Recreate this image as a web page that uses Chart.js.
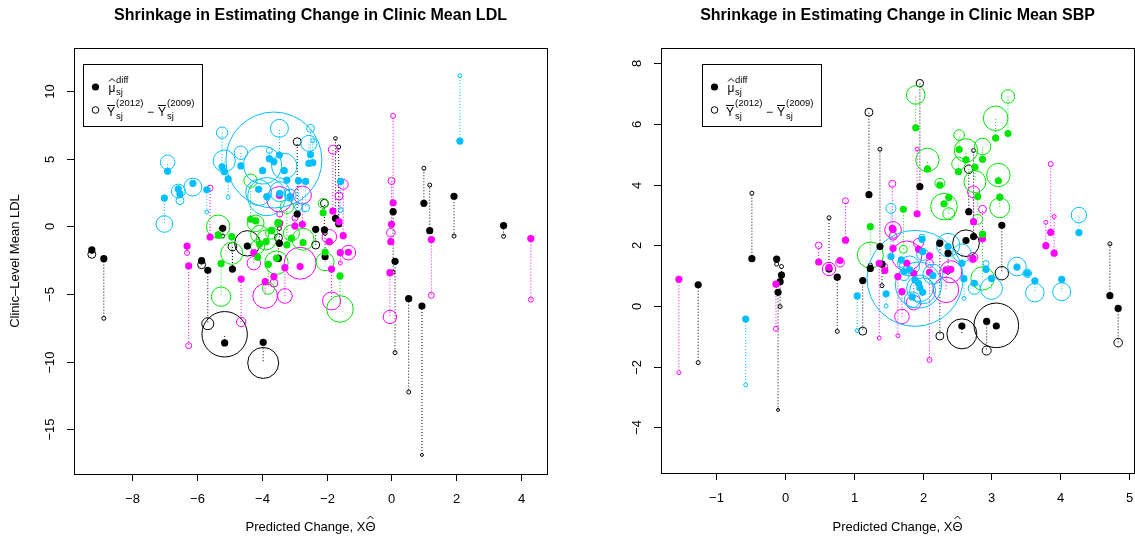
<!DOCTYPE html>
<html>
<head>
<meta charset="utf-8">
<title>Shrinkage in Estimating Change in Clinic Means</title>
<script src="https://cdn.jsdelivr.net/npm/chart.js@4.4.1/dist/chart.umd.min.js"></script>
<style>
  html, body { margin: 0; padding: 0; background: #fff; overflow: hidden; }
  .panel { position: absolute; top: 0; height: 539px; }
  #ldl-panel { left: 0; width: 567px; }
  #sbp-panel { left: 567px; width: 568px; }
</style>
</head>
<body>
<div class="panel" id="ldl-panel"><canvas id="ldlChart" width="567" height="539"></canvas></div>
<div class="panel" id="sbp-panel"><canvas id="sbpChart" width="568" height="539"></canvas></div>
<script>
// region colours: 0 black, 1 magenta, 2 green, 3 blue
const regionColors = ['#000000', '#ff00ff', '#00e600', '#00bfff'];

// ---- LDL panel ----
// predicted change (x), shrinkage estimate (filled), raw 2012-2009 difference (open), clinic weight (circle radius)
const ldlX = [
  -9.25, -8.88, -5.86, -5.67, -5.15, -3.96, 0.05, 0.11, 0.53, 0.94, 1.0, 1.18, 1.93, 3.46, -1.73, -1.63, -2.07, -2.05, -2.91, -2.34, -3.49, -4.45, -5.21, -4.91, -3.46,
  -6.31, -6.26, -5.6, -4.64, -1.85, -1.33, -1.58, 0.05, 0.0, -0.02, -0.05, 1.23, 4.3, -1.81, -1.49, -1.62, -3.46, -2.75, -2.82, -1.92, -4.25, -3.9, -3.29, -3.63, -3.45, -2.98,
  -4.35, -5.35, -4.93, -3.87, -3.55, -2.73, -2.05, -5.26, -1.59, -4.19, -2.11, -3.8, -4.07, -4.13, -3.09, -3.49, -3.23, -3.7,
  -6.91, -7.01, -6.58, -6.53, -6.13, -5.7, -5.23, -5.16, -5.04, -4.65, -3.63, -3.46, -2.5, -2.55, -2.43, -3.98, -3.31, -3.23, -2.87, -2.65, -4.1, -3.85, -3.45, -3.13, -1.57, 2.11, -3.77
];
const ldlFit = [
  -1.75, -2.39, -2.54, -3.25, -8.62, -8.57, 1.08, -2.59, -5.35, -5.89, 1.7, -0.32, 2.22, 0.05, 0.59, 0.17, -0.27, -2.25, 0.91, -0.22, -2.37, -1.46, -0.15, -3.16, -1.26,
  -1.46, -2.93, -0.79, -3.9, -3.16, -1.92, -1.95, 1.74, 0.15, -1.14, -3.43, -0.98, -0.91, 1.13, -0.69, 0.34, 2.3, 0.15, -2.98, -1.14, -1.95, -4.09, -3.06, -3.72, 0.22, 0.02,
  0.52, -0.64, -0.77, -1.14, -2.35, -1.21, -1.9, -2.76, -3.67, 0.4, 1.0, -2.81, -1.31, -2.29, -0.89, 0.27, -1.38, -0.33,
  4.07, 2.09, 2.76, 2.39, 3.18, 2.7, 4.4, 4.04, 3.5, 4.46, 4.78, 5.27, 5.3, 4.65, 4.7, 4.11, 4.11, 3.42, 3.37, 3.32, 2.73, 2.2, 2.44, 2.19, 3.32, 6.3, 5.0
];
const ldlRaw = [
  -2.07, -6.8, -2.84, -7.2, -7.98, -10.1, -3.4, -9.34, -12.25, -16.9, 4.29, 3.05, -0.72, -0.74, 6.5, 5.86, 1.7, -0.52, 6.25, -1.38, -0.85, -1.26, -0.72, -1.5, -0.15,
  -1.97, -8.82, 2.81, -7.07, -5.52, -1.95, -2.71, 8.17, 3.35, -0.47, -6.7, -5.1, -5.42, 5.66, 3.1, 2.24, 2.0, 2.31, -2.73, -0.77, -2.73, -5.15, -5.15, -4.2, 0.9, 0.6,
  3.37, -0.03, -2.0, -1.01, -2.69, -0.96, -2.62, -5.2, -6.11, 0.22, 1.7, -4.58, -0.6, -1.5, -0.5, 0.22, 1.45, -0.5,
  4.73, 0.17, 2.6, 1.9, 2.9, 1.06, 6.92, 4.83, 2.14, 5.44, 4.9, 7.24, 7.24, 6.13, 6.33, 4.53, 4.45, 2.5, 1.45, 1.37, 2.5, 2.19, 2.56, 2.3, 1.2, 11.13, 5.6
];
const ldlWeight = [
  4, 2, 4, 6, 22.7, 15.5, 2, 2, 2, 1.5, 2, 2, 2, 2, 1.8, 2, 4, 2, 4, 4, 4, 12.7, 2, 4.3, 2,
  2.5, 3, 3, 4.7, 9, 7.3, 2, 2.5, 3.5, 4.3, 6.7, 3, 2.5, 4.5, 5, 4, 12.7, 9, 16, 7.3, 6.7, 12.3, 7.3, 4, 3, 3,
  6.7, 11.7, 11, 10, 11.7, 11, 9, 9.7, 13.3, 8.3, 5, 6, 9, 7, 8, 4, 6.7, 6,
  7.3, 8.3, 7, 4, 9, 2, 5.7, 11, 2, 6.7, 48, 9, 4, 8, 2, 19, 12.7, 3, 4, 4, 13, 19, 10, 6, 2.5, 2, 3
];
const ldlRegion = [
  0, 0, 0, 0, 0, 0, 0, 0, 0, 0, 0, 0, 0, 0, 0, 0, 0, 0, 0, 0, 0, 0, 0, 0, 0,
  1, 1, 1, 1, 1, 1, 1, 1, 1, 1, 1, 1, 1, 1, 1, 1, 1, 1, 1, 1, 1, 1, 1, 1, 1, 1,
  2, 2, 2, 2, 2, 2, 2, 2, 2, 2, 2, 2, 2, 2, 2, 2, 2, 2,
  3, 3, 3, 3, 3, 3, 3, 3, 3, 3, 3, 3, 3, 3, 3, 3, 3, 3, 3, 3, 3, 3, 3, 3, 3, 3, 3
];
const ldlXTicks = [-8, -6, -4, -2, 0, 2, 4];
const ldlYTicks = [-15, -10, -5, 0, 5, 10];

// ---- SBP panel ----
const sbpX = [
  -1.26, -0.48, -0.12, -0.05, -0.07, -0.1, 0.64, 0.76, 1.13, 1.22, 1.38, 1.41, 1.24, 1.96, 2.67, 2.74, 2.63, 2.25, 2.37, 3.15, 2.57, 2.93, 3.07, 4.72, 4.84,
  -1.54, -0.13, 0.49, 0.64, 0.8, 0.88, 1.92, 1.56, 1.57, 2.74, 2.87, 3.86, 3.79, 3.91, 1.37, 1.64, 2.1, 1.7, 2.34, 1.87, 1.77, 2.41, 1.94, 2.1, 1.45, 1.57, 2.73,
  1.24, 1.9, 2.07, 2.25, 2.31, 2.38, 1.72, 2.53, 2.63, 2.87, 2.52, 2.76, 2.8, 2.87, 3.06, 3.24, 3.1, 3.12,
  -0.57, 1.05, 1.54, 4.27, 3.37, 3.52, 3.63, 4.02, 1.89, 1.94, 1.96, 1.81, 2.37, 1.69, 1.73, 2.0, 1.47, 3.0, 2.92, 2.75, 2.57, 2.6, 1.99, 2.0, 2.15, 1.85
];
const sbpFit = [
  0.7, 1.56, 1.55, 1.02, 0.8, 0.45, 1.22, 0.95, 0.84, 3.67, 1.96, 1.38, 1.24, 3.94, 3.11, 2.29, 2.16, 2.07, 1.74, 2.66, -0.66, -0.51, -0.66, 0.34, -0.08,
  0.88, 0.72, 1.45, 1.27, 1.5, 2.17, 3.04, 2.56, 2.53, 2.78, 2.21, 2.43, 1.99, 1.74, 1.41, 0.97, 1.11, 0.47, 1.19, 1.08, 1.41, 1.21, 1.87, 1.65, 1.17, 1.9, 1.57,
  2.62, 5.88, 4.52, 3.99, 3.37, 3.58, 3.19, 5.16, 4.82, 4.84, 4.43, 4.58, 3.61, 2.37, 5.54, 5.69, 4.13, 3.59,
  -0.43, 0.33, 1.63, 2.42, 1.28, 1.08, 0.83, 0.88, 0.86, 0.75, 0.6, 1.2, 1.96, 1.52, 1.13, 1.79, 0.4, 0.91, 1.21, 0.75, 1.41, 0.9, 2.2, 0.45, 1.0, 0.3
];
const sbpRaw = [
  -1.87, 3.72, 1.38, 1.3, -0.02, -3.43, 2.91, -0.84, -0.83, 6.39, 5.17, 0.67, 1.35, 7.35, 4.51, 5.13, 2.07, -0.99, 1.11, 1.08, -0.92, -1.47, -0.64, 2.05, -1.21,
  -2.2, -0.75, 2.0, 1.22, 1.43, 3.47, 5.17, 4.03, 2.51, 3.76, 3.19, 4.68, 2.76, 2.95, -1.06, -0.98, -1.78, -0.35, 0.53, 0.11, 1.65, 1.13, 2.07, 1.4, 1.3, 2.3, 1.6,
  1.68, 6.96, 4.82, 4.05, 3.28, 3.04, 1.87, 5.64, 5.13, 5.26, 4.69, 4.1, 2.86, 0.91, 6.19, 6.91, 4.32, 3.24,
  -2.6, -0.81, 3.22, 3.0, 1.3, 1.08, 0.44, 0.47, 0.91, 0.69, 0.58, 1.32, 2.01, 1.4, 1.0, 1.7, 0.0, 0.58, 1.4, 0.58, 1.74, 0.25, 2.27, 0.5, 1.05, 0.2
];
const sbpWeight = [
  2, 2, 2, 2, 2, 1.5, 2, 2, 4, 4, 2, 2, 2, 3.7, 4.3, 2, 13.3, 4, 2, 6.7, 15, 4.5, 22.3, 2, 4.3,
  2, 2.5, 3.3, 6.7, 4.3, 3, 2, 3.5, 8.3, 6, 4, 2.5, 2, 2, 2, 2, 2.5, 7.3, 12.7, 7.3, 15, 11, 5, 4, 3, 4, 5,
  13, 9.3, 11.7, 5, 13.3, 6, 4, 5.3, 11.7, 8.3, 6.7, 11, 5, 11.7, 12.3, 6.7, 11.7, 10,
  2, 2, 5, 7.7, 9.3, 4.3, 9.3, 9, 48, 23, 13.3, 10, 11.7, 4, 5, 6, 2, 11, 3, 6, 9.3, 2, 3, 13, 10, 8
];
const sbpRegion = [
  0, 0, 0, 0, 0, 0, 0, 0, 0, 0, 0, 0, 0, 0, 0, 0, 0, 0, 0, 0, 0, 0, 0, 0, 0,
  1, 1, 1, 1, 1, 1, 1, 1, 1, 1, 1, 1, 1, 1, 1, 1, 1, 1, 1, 1, 1, 1, 1, 1, 1, 1, 1,
  2, 2, 2, 2, 2, 2, 2, 2, 2, 2, 2, 2, 2, 2, 2, 2, 2, 2,
  3, 3, 3, 3, 3, 3, 3, 3, 3, 3, 3, 3, 3, 3, 3, 3, 3, 3, 3, 3, 3, 3, 3, 3, 3, 3
];
const sbpXTicks = [-1, 0, 1, 2, 3, 4, 5];
const sbpYTicks = [-4, -2, 0, 2, 4, 6, 8];

const FONT = '"Liberation Sans", Arial, Helvetica, sans-serif';

function fmt(v) {
  return v < 0 ? '\u2212' + Math.abs(v) : String(v);
}

function hat(ctx, cx, y, w) {
  ctx.beginPath();
  ctx.moveTo(cx - w, y + 3);
  ctx.lineTo(cx, y);
  ctx.lineTo(cx + w, y + 3);
  ctx.stroke();
}

function drawLegend(ctx, bx, by) {
  const big = '12px ' + FONT;
  const small = '9.5px ' + FONT;
  ctx.save();
  ctx.lineWidth = 1;
  ctx.strokeStyle = '#000';
  ctx.fillStyle = '#000';
  ctx.strokeRect(bx + 0.5, by + 0.5, 119, 62);
  ctx.beginPath(); ctx.arc(bx + 12.5, by + 23, 3.6, 0, Math.PI * 2); ctx.fill();
  ctx.beginPath(); ctx.arc(bx + 12.5, by + 46, 3.3, 0, Math.PI * 2); ctx.stroke();
  ctx.textAlign = 'left';
  ctx.textBaseline = 'alphabetic';
  // mu hat
  ctx.font = big;
  ctx.fillText('\u03bc', bx + 25.5, by + 27.5);
  hat(ctx, bx + 29, by + 14.5, 3);
  ctx.font = small;
  ctx.fillText('diff', bx + 33, by + 18.5);
  ctx.fillText('sj', bx + 33, by + 31);
  // Ybar 2012 - Ybar 2009
  ctx.font = big;
  ctx.fillText('Y', bx + 24, by + 52);
  ctx.fillText('\u2212', bx + 64, by + 52);
  ctx.fillText('Y', bx + 75, by + 52);
  ctx.beginPath();
  ctx.moveTo(bx + 24, by + 41.5); ctx.lineTo(bx + 32, by + 41.5);
  ctx.moveTo(bx + 75, by + 41.5); ctx.lineTo(bx + 83, by + 41.5);
  ctx.stroke();
  ctx.font = small;
  ctx.fillText('(2012)', bx + 33, by + 41.5);
  ctx.fillText('sj', bx + 33, by + 55);
  ctx.fillText('(2009)', bx + 84, by + 41.5);
  ctx.fillText('sj', bx + 84, by + 55);
  ctx.restore();
}

// R-style frame, ticks, titles and legend
const rFrame = {
  id: 'rFrame',
  afterDraw(chart, args, opts) {
    const { ctx, chartArea: a } = chart;
    const xs = chart.scales.x, ys = chart.scales.y;
    ctx.save();
    ctx.strokeStyle = '#000';
    ctx.fillStyle = '#000';
    ctx.lineWidth = 1;
    ctx.strokeRect(Math.round(a.left) + 0.5, Math.round(a.top) + 0.5,
      Math.round(a.right - a.left), Math.round(a.bottom - a.top));

    ctx.font = '13px ' + FONT;
    ctx.textAlign = 'center';
    ctx.textBaseline = 'middle';
    opts.xTicks.forEach(v => {
      const px = Math.round(xs.getPixelForValue(v)) + 0.5;
      ctx.beginPath(); ctx.moveTo(px, a.bottom); ctx.lineTo(px, a.bottom + 7); ctx.stroke();
      ctx.fillText(fmt(v), px, a.bottom + 25);
    });
    opts.yTicks.forEach(v => {
      const py = Math.round(ys.getPixelForValue(v)) + 0.5;
      ctx.beginPath(); ctx.moveTo(a.left, py); ctx.lineTo(a.left - 7, py); ctx.stroke();
      ctx.save();
      ctx.translate(a.left - 24, py);
      ctx.rotate(-Math.PI / 2);
      ctx.fillText(fmt(v), 0, 0);
      ctx.restore();
    });

    const cx = (a.left + a.right) / 2;
    // main title
    ctx.font = 'bold 16px ' + FONT;
    ctx.fillText(opts.title, cx, 16);

    // x axis title with theta hat
    ctx.font = '13px ' + FONT;
    const lead = 'Predicted Change, X';
    const w1 = ctx.measureText(lead).width;
    const w2 = ctx.measureText('\u0398').width;
    const x0 = cx - (w1 + w2) / 2;
    ctx.textAlign = 'left';
    ctx.textBaseline = 'alphabetic';
    ctx.fillText(lead, x0, 531);
    ctx.fillText('\u0398', x0 + w1, 531);
    hat(ctx, x0 + w1 + w2 / 2, 516, 3);

    if (opts.yTitle) {
      ctx.save();
      ctx.textAlign = 'center';
      ctx.textBaseline = 'middle';
      ctx.translate(a.left - 59, (a.top + a.bottom) / 2);
      ctx.rotate(-Math.PI / 2);
      ctx.fillText(opts.yTitle, 0, 0);
      ctx.restore();
    }
    ctx.restore();
    drawLegend(ctx, a.left + opts.legendDx, a.top + 16);
  }
};

function buildChart(canvasId, xs, fit, raw, weight, region, cfg) {
  const colorOf = i => regionColors[region[i]];
  const filled = xs.map((x, i) => ({ x: x, y: fit[i] }));
  const open = xs.map((x, i) => ({ x: x, y: raw[i], r: weight[i] }));
  const links = [];
  xs.forEach((x, i) => {
    links.push({ x: x, y: fit[i] }, { x: x, y: raw[i] }, { x: x, y: null });
  });

  return new Chart(document.getElementById(canvasId), {
    type: 'scatter',
    data: {
      datasets: [{
        label: 'shrinkage estimate',
        type: 'scatter',
        data: filled,
        order: 0,
        pointRadius: 3.6,
        pointBorderWidth: 0,
        pointBackgroundColor: ctx => colorOf(ctx.dataIndex)
      }, {
        label: 'raw difference',
        type: 'bubble',
        data: open,
        order: 1,
        borderWidth: 1,
        backgroundColor: 'rgba(0,0,0,0)',
        borderColor: ctx => colorOf(ctx.dataIndex)
      }, {
        label: 'links',
        type: 'line',
        data: links,
        order: 2,
        showLine: true,
        spanGaps: false,
        pointRadius: 0,
        borderWidth: 1,
        borderDash: [1, 2],
        segment: {
          borderColor: ctx => colorOf(Math.floor(ctx.p0DataIndex / 3))
        }
      }]
    },
    options: {
      responsive: false,
      animation: false,
      devicePixelRatio: 1,
      events: [],
      layout: { padding: cfg.padding, autoPadding: false },
      plugins: {
        legend: { display: false },
        tooltip: { enabled: false },
        rFrame: {
          xTicks: cfg.xTicks,
          yTicks: cfg.yTicks,
          title: cfg.title,
          yTitle: cfg.yTitle,
          legendDx: cfg.legendDx
        }
      },
      scales: {
        x: { type: 'linear', min: cfg.xMin, max: cfg.xMax, display: false },
        y: { type: 'linear', min: cfg.yMin, max: cfg.yMax, display: false }
      }
    },
    plugins: [rFrame]
  });
}

buildChart('ldlChart', ldlX, ldlFit, ldlRaw, ldlWeight, ldlRegion, {
  padding: { left: 74, top: 48, right: 20, bottom: 65 },
  xMin: -9.8, xMax: 4.8, yMin: -18.31, yMax: 13.18,
  xTicks: ldlXTicks, yTicks: ldlYTicks,
  title: 'Shrinkage in Estimating Change in Clinic Mean LDL',
  yTitle: 'Clinic\u2013Level Mean LDL',
  legendDx: 9
});

buildChart('sbpChart', sbpX, sbpFit, sbpRaw, sbpWeight, sbpRegion, {
  padding: { left: 94, top: 48, right: 1, bottom: 66 },
  xMin: -1.8, xMax: 5.07, yMin: -5.51, yMax: 8.51,
  xTicks: sbpXTicks, yTicks: sbpYTicks,
  title: 'Shrinkage in Estimating Change in Clinic Mean SBP',
  yTitle: null,
  legendDx: 41
});
</script>
</body>
</html>
